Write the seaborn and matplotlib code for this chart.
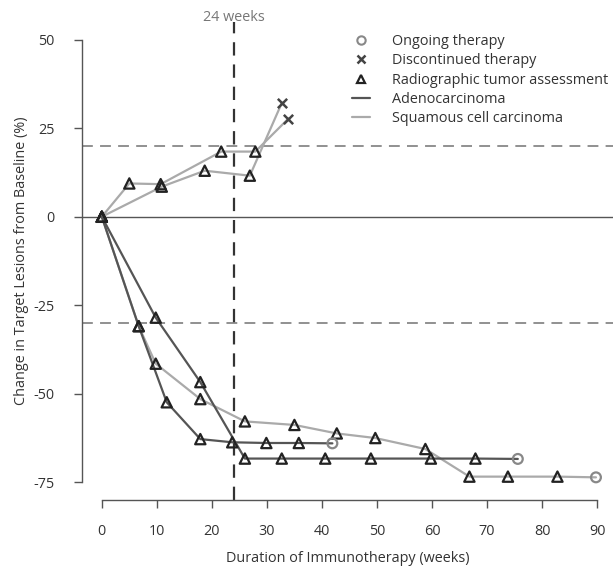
import pandas as pd
import matplotlib
matplotlib.use('Agg')
import matplotlib.pyplot as plt
import matplotlib.transforms as mtransforms
from matplotlib.lines import Line2D
import seaborn as sns

# Dados (semanas, variação % das lesões-alvo)
p1_semanas = [0, 5, 10.7, 21.7, 27.9, 33.9]
p1_variacao = [0, 9.4, 9.2, 18.4, 18.4, 27.7]

p2_semanas = [0, 10.9, 18.7, 26.9, 32.7]
p2_variacao = [0, 8.5, 13.0, 11.6, 32.1]

p3_semanas = [0, 9.8, 17.9, 26.0, 32.7, 40.6, 48.9, 59.8, 67.9, 75.6]
p3_variacao = [0, -28.5, -46.7, -68.3, -68.3, -68.3, -68.3, -68.3, -68.3, -68.4]

p4_semanas = [0, 6.7, 11.8, 17.9, 23.7, 29.9, 35.8, 41.9]
p4_variacao = [0, -30.9, -52.4, -62.8, -63.7, -63.9, -63.9, -64.0]

p5_semanas = [0, 6.7, 9.8, 17.9, 26.0, 35.0, 42.7, 49.7, 58.8, 66.8, 73.8, 82.8, 89.8]
p5_variacao = [0, -30.9, -41.5, -51.5, -57.8, -58.8, -61.2, -62.5, -65.6, -73.4, -73.4, -73.4, -73.6]

pacientes = ['P1', 'P2', 'P3', 'P4', 'P5']
histologia = ['Squamous cell carcinoma', 'Squamous cell carcinoma', 'Adenocarcinoma',
              'Adenocarcinoma', 'Squamous cell carcinoma']
status_final = ['Discontinued', 'Discontinued', 'Ongoing', 'Ongoing', 'Ongoing']
semanas = [p1_semanas, p2_semanas, p3_semanas, p4_semanas, p5_semanas]
variacoes = [p1_variacao, p2_variacao, p3_variacao, p4_variacao, p5_variacao]


# Monta o DataFrame longo
def montar_df():
    linhas = []
    for pac, hist, stat, xs, ys in zip(pacientes, histologia, status_final, semanas, variacoes):
        for i, (x, y) in enumerate(zip(xs, ys)):
            tipo = stat if i == len(xs) - 1 else 'Assessment'
            linhas.append({'paciente': pac, 'histologia': hist, 'semana': x,
                           'variacao': y, 'tipo': tipo})
    return pd.DataFrame(linhas)


dados = montar_df()

sns.set_style('ticks')
plt.rcParams['font.family'] = ['Open Sans', 'DejaVu Sans']
plt.rcParams['axes.unicode_minus'] = False

fs = 10.4
fig = plt.figure(figsize=(6.13, 5.69), dpi=100)
ax = fig.add_axes([82 / 613, 69 / 569, 1 - 82 / 613, 478 / 569])

cor_adeno = '#555555'
cor_esc = '#aaaaaa'

# linhas de referência
ax.axhline(0, color='#555555', lw=1, zorder=1)
ax.axhline(20, color='#888888', lw=1.3, dashes=(6, 4), zorder=1)
ax.axhline(-30, color='#888888', lw=1.3, dashes=(6, 4), zorder=1)
ax.axvline(24, color='#333333', lw=1.6, dashes=(6, 4), zorder=1)

sns.lineplot(data=dados, x='semana', y='variacao', hue='histologia', units='paciente',
             estimator=None, sort=False, palette={'Adenocarcinoma': cor_adeno,
                                                  'Squamous cell carcinoma': cor_esc},
             lw=1.6, legend=False, ax=ax, zorder=2)

tri = dados[dados['tipo'] == 'Assessment']
sns.scatterplot(data=tri, x='semana', y='variacao', marker='^', s=55,
                facecolor='none', edgecolor='#222222', linewidth=1.6, ax=ax, zorder=3)
ong = dados[dados['tipo'] == 'Ongoing']
sns.scatterplot(data=ong, x='semana', y='variacao', marker='o', s=50,
                facecolor='none', edgecolor='#888888', linewidth=1.6, ax=ax, zorder=3)
dis = dados[dados['tipo'] == 'Discontinued']
sns.scatterplot(data=dis, x='semana', y='variacao', marker='x', s=45,
                color='#444444', linewidth=1.8, ax=ax, zorder=3)

ax.set_xlim(-3.6, (613 - 103) / 5.49)
ax.set_ylim(-80, 55)
ax.set_xticks(range(0, 91, 10))
ax.set_yticks([-75, -50, -25, 0, 25, 50])
sns.despine(ax=ax)
ax.spines['left'].set_bounds(-75, 50)
ax.spines['bottom'].set_bounds(0, 90)
for s in ['left', 'bottom']:
    ax.spines[s].set_color('#555555')
    ax.spines[s].set_linewidth(1)
ax.tick_params(axis='both', colors='#555555', length=6, width=1, labelsize=fs,
               labelcolor='#333333')
ax.tick_params(axis='x', pad=11)
ax.tick_params(axis='y', pad=14)

ax.set_xlabel('Duration of Immunotherapy (weeks)', fontsize=fs, color='#333333', labelpad=9)
ax.set_ylabel('Change in Target Lesions from Baseline (%)', fontsize=fs, color='#333333',
              labelpad=3)

trans = mtransforms.blended_transform_factory(ax.transData, ax.transAxes)
ax.text(24, 1.01, '24 weeks', transform=trans, ha='center', va='center',
        fontsize=fs, color='#777777')

handles = [
    Line2D([], [], ls='none', marker='o', mfc='none', mec='#888888', mew=1.5, ms=6),
    Line2D([], [], ls='none', marker='x', color='#444444', mew=1.8, ms=6),
    Line2D([], [], ls='none', marker='^', mfc='none', mec='#222222', mew=1.6, ms=6),
    Line2D([], [], color=cor_adeno, lw=1.6),
    Line2D([], [], color=cor_esc, lw=1.6),
]
rotulos = ['Ongoing therapy', 'Discontinued therapy', 'Radiographic tumor assessment',
           'Adenocarcinoma', 'Squamous cell carcinoma']
fig.legend(handles, rotulos, loc='upper left', bbox_to_anchor=(352 / 613, 1 - 34 / 569),
           frameon=False, fontsize=fs, handlelength=1.25, handletextpad=1.5,
           labelspacing=0.3, borderpad=0, borderaxespad=0, labelcolor='#333333')

plt.savefig('out.png', dpi=100)
